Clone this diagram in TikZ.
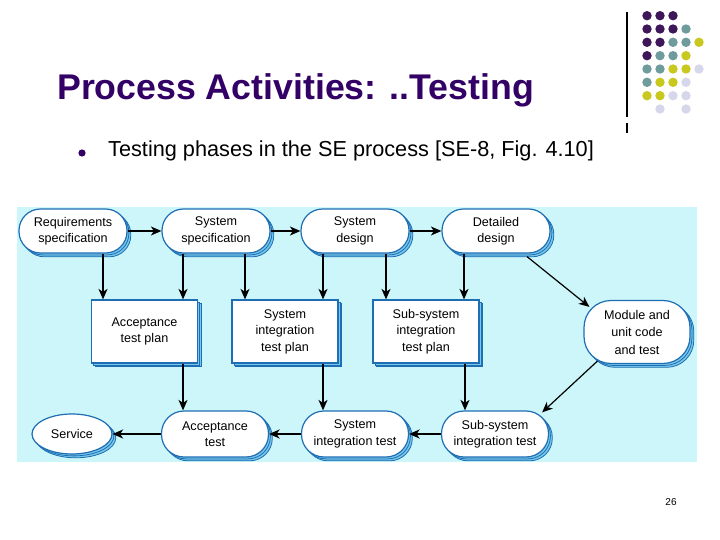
\documentclass[tikz,border=0pt]{standalone}
\usepackage{fontspec}
\setmainfont{Liberation Sans}
\usetikzlibrary{shadows,arrows.meta,shapes.geometric}
\definecolor{titlecol}{RGB}{51,0,102}
\definecolor{bgcol}{RGB}{204,246,250}
\definecolor{edgecol}{RGB}{30,110,180}
\definecolor{shadcol}{RGB}{120,200,235}
\definecolor{dP}{RGB}{62,22,90}
\definecolor{dT}{RGB}{110,155,155}
\definecolor{dY}{RGB}{200,200,30}
\definecolor{dL}{RGB}{215,215,235}
\begin{document}
\begin{tikzpicture}[x=1pt,y=-1pt,
  box/.style={draw=edgecol, line width=1.2pt, fill=white, align=center,
    font=\fontsize{12.6}{16.5}\selectfont, inner sep=0pt,
    double copy shadow={shadow xshift=1.9pt, shadow yshift=-1.9pt, fill=shadcol, draw=edgecol, line width=0.8pt}},
  stad/.style={box, rectangle, rounded corners=21.5pt, minimum width=108pt, minimum height=44pt},
  stadb/.style={box, rectangle, rounded corners=22.5pt, minimum width=107pt, minimum height=46pt},
  plan/.style={box, rectangle, minimum width=106pt, minimum height=63pt},
  arr/.style={line width=1.6pt, -{Stealth[length=10.5pt,width=9pt,inset=3pt]}},
  arrthin/.style={line width=1.2pt, -{Stealth[length=10.5pt,width=9pt,inset=3pt]}},
  dotP/.style={fill=dP}, dotT/.style={fill=dT}, dotY/.style={fill=dY}, dotL/.style={fill=dL}
]
\useasboundingbox (0,0) rectangle (720,540);
\fill[white] (0,0) rectangle (720,540);

% decoration
\draw[line width=1.2pt] (627,12) -- (627,117);
\draw[line width=1.2pt] (627,123) -- (627,133);
\foreach \c/\x/\y in {P/647/15.7,P/660/15.7,P/673/15.7,
  P/647/29,P/660/29,P/673/29,T/686/29,
  P/647/42.3,P/660/42.3,T/673/42.3,T/686/42.3,Y/699/42.3,
  P/647/55.7,T/660/55.7,T/673/55.7,Y/686/55.7,
  T/647/69,T/660/69,Y/673/69,Y/686/69,L/699/69,
  T/647/82.3,Y/660/82.3,Y/673/82.3,L/686/82.3,
  Y/647/95.7,Y/660/95.7,L/673/95.7,L/686/95.7,
  L/660/109,L/686/109}
  \fill[dot\c] (\x,\y) circle (4.7);

% title and bullet
\node[anchor=base west, inner sep=0pt, text=titlecol, font=\fontsize{35.7}{40}\selectfont\bfseries] (title) at (57,99.3) {Process Activities: ..Testing};
\fill[titlecol] (82,153) circle (3.6);
\node[anchor=base west, inner sep=0pt, font=\fontsize{21.7}{26}\selectfont] (bul) at (108,156.7) {Testing phases in the SE process [SE-8, Fig. 4.10]};

% diagram background
\fill[bgcol] (17,207) rectangle (697,462);

% top row
\node[stad] (req) at (73,231) {Requirements\\specification};
\node[stad] (sspec) at (216,231) {System\\specification};
\node[stad] (sdes) at (355,231) {System\\design};
\node[stad] (ddes) at (496,231) {Detailed\\design};

% middle row
\node[plan] (atp) at (144.5,331.5) {Acceptance\\test plan};
\node[plan] (sitp) at (285,331.5) {System\\integration\\test plan};
\node[plan] (ssitp) at (426,331.5) {Sub-system\\integration\\test plan};
\node[box, rectangle, rounded corners=27pt, minimum width=106pt, minimum height=63pt, font=\fontsize{12.6}{17.5}\selectfont] (mod) at (637,332) {Module and\\unit code\\and test};

% bottom row
\node[box, ellipse, minimum width=80pt, minimum height=40pt] (svc) at (72,434) {Service};
\node[stadb] (at) at (215,434) {Acceptance\\test};
\node[stadb] (sit) at (355,434) {System\\integration test};
\node[stadb] (ssit) at (495,434) {Sub-system\\integration test};

% connectors top row
\draw[arr] (req.east) -- (sspec.west);
\draw[arr] (sspec.east) -- (sdes.west);
\draw[arr] (sdes.east) -- (ddes.west);

% top to middle
\draw[arr] ([xshift=30pt]req.south) -- ([xshift=30pt]req.south |- atp.north);
\draw[arr] ([xshift=-33pt]sspec.south) -- ([xshift=-33pt]sspec.south |- atp.north);
\draw[arr] ([xshift=29pt]sspec.south) -- ([xshift=29pt]sspec.south |- sitp.north);
\draw[arr] ([xshift=-32pt]sdes.south) -- ([xshift=-32pt]sdes.south |- sitp.north);
\draw[arr] ([xshift=31pt]sdes.south) -- ([xshift=31pt]sdes.south |- ssitp.north);
\draw[arr] ([xshift=-32pt]ddes.south) -- ([xshift=-32pt]ddes.south |- ssitp.north);
\draw[arrthin] ([shift={(31pt,-3pt)}]ddes.south) -- ([shift={(6pt,-7pt)}]mod.north west);

% middle to bottom
\draw[arr] ([xshift=38.5pt]atp.south) -- ([xshift=38.5pt]atp.south |- at.north);
\draw[arr] ([xshift=38pt]sitp.south) -- ([xshift=38pt]sitp.south |- sit.north);
\draw[arr] ([xshift=39pt]ssitp.south) -- ([xshift=39pt]ssitp.south |- ssit.north);
\draw[arrthin] ([shift={(14pt,3pt)}]mod.south west) -- ([shift={(-7pt,-2pt)}]ssit.north east);

% bottom row
\draw[arr] (ssit.west) -- (sit.east);
\draw[arr] (sit.west) -- (at.east);
\draw[arr] (at.west) -- (svc.east);

% page number
\node[font=\fontsize{10}{12}\selectfont, inner sep=0pt] (pg) at (671,502) {26};
\end{tikzpicture}
\end{document}
